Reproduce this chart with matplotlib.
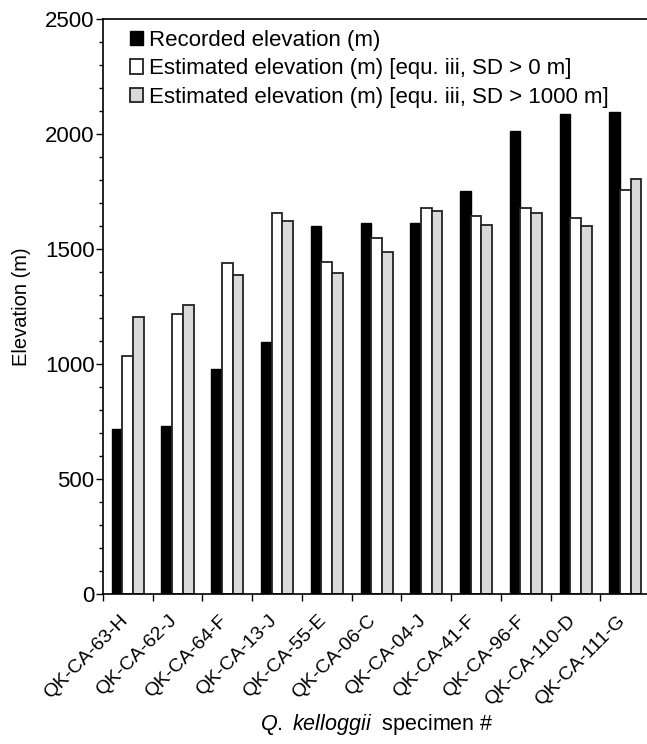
import matplotlib
matplotlib.use("Agg")
import matplotlib.pyplot as plt
import matplotlib.transforms as mtransforms
import numpy as np
from matplotlib.ticker import MultipleLocator, FixedLocator

plt.rcParams['font.family'] = ['Liberation Sans', 'DejaVu Sans']
plt.rcParams['mathtext.fontset'] = 'custom'
plt.rcParams['mathtext.it'] = 'Liberation Sans:italic'
plt.rcParams['mathtext.rm'] = 'Liberation Sans'

specimens = ["QK-CA-63-H", "QK-CA-62-J", "QK-CA-64-F", "QK-CA-13-J", "QK-CA-55-E",
             "QK-CA-06-C", "QK-CA-04-J", "QK-CA-41-F", "QK-CA-96-F", "QK-CA-110-D",
             "QK-CA-111-G"]
recorded = [718, 730, 980, 1097, 1598, 1613, 1613, 1754, 2015, 2088, 2095]
est_sd0 = [1036, 1219, 1437, 1655, 1444, 1548, 1678, 1642, 1678, 1634, 1757]
est_sd1000 = [1204, 1255, 1386, 1621, 1395, 1489, 1663, 1605, 1655, 1598, 1803]
series_labels = ["Recorded elevation (m)",
                 "Estimated elevation (m) [equ. iii, SD > 0 m]",
                 "Estimated elevation (m) [equ. iii, SD > 1000 m]"]

fig = plt.figure(figsize=(6.47, 7.44), dpi=100)
ax = fig.add_axes([0.159, 0.2016, 0.846, 0.7729])

x = np.arange(len(specimens))
w = 0.215
ax.bar(x - w, recorded, w, color="black", edgecolor="black", linewidth=1.0, label=series_labels[0])
ax.bar(x, est_sd0, w, color="white", edgecolor="#222222", linewidth=1.3, label=series_labels[1])
ax.bar(x + w, est_sd1000, w, color="#d9d9d9", edgecolor="#222222", linewidth=1.3, label=series_labels[2])

ax.set_xlim(-0.5, len(specimens) - 0.5)
ax.set_ylim(0, 2500)
ax.yaxis.set_major_locator(MultipleLocator(500))
ax.yaxis.set_minor_locator(MultipleLocator(100))
ax.tick_params(axis='y', which='major', length=5, width=1, labelsize=16, pad=1, direction='out')
ax.tick_params(axis='y', which='minor', length=3, width=1, direction='out')

ax.set_xticks(x)
ax.set_xticklabels(specimens, rotation=45, ha='right', va='top', rotation_mode='anchor', fontsize=14)
ax.tick_params(axis='x', which='major', length=0, pad=13)
offset = mtransforms.ScaledTranslation(-9 / 100, 0, fig.dpi_scale_trans)
for lab in ax.get_xticklabels():
    lab.set_transform(lab.get_transform() + offset)
ax.xaxis.set_minor_locator(FixedLocator(np.arange(-0.5, len(specimens), 1.0)))
ax.tick_params(axis='x', which='minor', length=5, width=1, direction='out')

for s in ['left', 'bottom', 'top']:
    ax.spines[s].set_linewidth(1.2)
ax.spines['right'].set_visible(False)

ax.set_ylabel("Elevation (m)", fontsize=14.5, labelpad=10)
ax.set_xlabel(r"$\it{Q.\ kelloggii}$  specimen #", fontsize=15.5, va='top')
ax.xaxis.set_label_coords(0.5, -0.205)

leg = ax.legend(loc='upper left', bbox_to_anchor=(0.025, 1.004), frameon=False, fontsize=16,
                handlelength=0.6, handleheight=0.6, handletextpad=0.25, labelspacing=0.33,
                borderaxespad=0.2)

fig.savefig("out.png", dpi=100)
